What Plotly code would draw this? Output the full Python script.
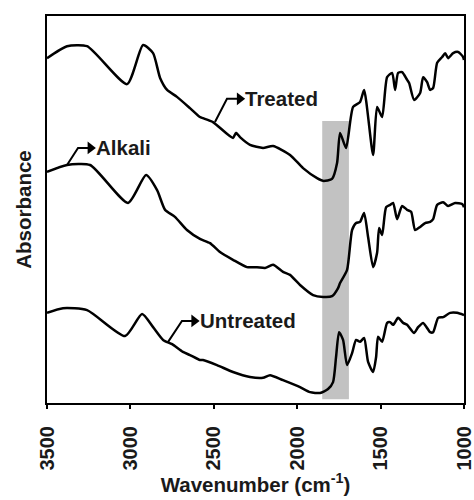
import plotly.graph_objects as go

# FTIR spectra (wavenumber in cm^-1, absorbance in arbitrary offset units)
treated_wn = [3500, 3380, 3260, 3020, 2924, 2864, 2822, 2780, 2721, 2643, 2583, 2565, 2505,
              2385, 2367, 2343, 2283, 2205, 2145, 2043, 1965, 1881, 1845, 1791, 1761, 1743,
              1707, 1665, 1623, 1599, 1545, 1521, 1491, 1461, 1431, 1413, 1395, 1371, 1341,
              1329, 1299, 1263, 1245, 1221, 1203, 1185, 1161, 1131, 1113, 1095, 1065, 1035,
              1005, 1000]
treated_abs = [89.1, 92.2, 92.2, 82.4, 92.5, 90.4, 84.0, 80.9, 79.1, 76.2, 73.9, 73.6, 72.6,
               68.5, 69.8, 68.7, 66.7, 65.9, 66.4, 64.1, 60.7, 58.1, 57.4, 57.9, 62.0, 69.8,
               65.9, 76.5, 77.8, 80.9, 64.1, 76.5, 73.9, 84.2, 85.3, 80.9, 85.3, 85.5, 83.5,
               82.7, 78.3, 80.1, 84.2, 82.9, 80.9, 81.4, 87.9, 89.4, 90.4, 89.1, 90.4, 90.7,
               89.4, 88.6]

alkali_wn = [3500, 3380, 3242, 3014, 2906, 2840, 2792, 2733, 2661, 2583, 2523, 2463, 2385,
             2301, 2241, 2193, 2145, 2085, 2043, 1983, 1905, 1845, 1791, 1755, 1743, 1701,
             1671, 1647, 1623, 1599, 1575, 1545, 1521, 1509, 1491, 1467, 1443, 1425, 1401,
             1371, 1341, 1317, 1293, 1263, 1233, 1203, 1185, 1161, 1125, 1095, 1053, 1011,
             1000]
alkali_abs = [59.7, 61.5, 61.5, 51.7, 58.9, 55.0, 49.9, 48.1, 44.7, 42.4, 41.3, 39.0, 37.0,
              35.1, 35.1, 34.9, 35.7, 33.9, 33.1, 30.5, 27.9, 27.4, 27.6, 29.7, 31.0, 34.4,
              44.7, 46.5, 46.8, 49.1, 42.9, 35.1, 38.8, 45.2, 43.4, 50.6, 51.2, 51.7, 47.5,
              50.9, 49.9, 49.4, 44.7, 45.5, 46.5, 46.8, 47.5, 51.2, 51.9, 50.9, 51.7, 51.4,
              50.6]

untreated_wn = [3500, 3404, 3260, 3032, 2930, 2864, 2804, 2750, 2685, 2643, 2583, 2565, 2481,
                2385, 2283, 2205, 2163, 2085, 1983, 1923, 1863, 1815, 1785, 1767, 1749, 1725,
                1701, 1671, 1647, 1623, 1599, 1575, 1545, 1527, 1515, 1491, 1461, 1443, 1425,
                1395, 1365, 1341, 1299, 1275, 1245, 1203, 1185, 1155, 1125, 1083, 1041, 1000]
untreated_abs = [23.3, 24.5, 24.0, 17.3, 23.0, 19.6, 16.3, 15.2, 13.2, 12.4, 11.1, 11.1, 9.8,
                 8.0, 6.7, 6.5, 7.2, 5.9, 4.1, 2.8, 2.6, 3.6, 5.4, 11.9, 18.3, 16.3,
                 9.8, 12.9, 16.3, 15.8, 16.8, 10.6, 8.0, 11.9, 17.1, 15.8, 20.7, 20.9, 20.2,
                 22.0, 20.7, 20.2, 18.1, 19.6, 20.7, 18.3, 18.3, 22.0, 22.2, 23.3, 23.3, 22.7]

x_ticks = [3500, 3000, 2500, 2000, 1500, 1000]
x_tick_labels = ["3500", "3000", "2500", "2000", "1500", "1000"]

# carbonyl band highlight
band_lo, band_hi = 1690, 1850
band_top = 72.9

FONT = "Liberation Sans, Arial, sans-serif"
INK = "#1a1a1a"

fig = go.Figure()
fig.add_shape(type="rect", xref="x", yref="y", x0=band_hi, x1=band_lo, y0=1.0, y1=band_top,
              fillcolor="#c2c2c2", line=dict(width=0), layer="below")

for wn, ab in [(treated_wn, treated_abs), (alkali_wn, alkali_abs), (untreated_wn, untreated_abs)]:
    fig.add_trace(go.Scatter(
        x=wn, y=ab, mode="lines",
        line=dict(color="black", width=2.5, shape="spline", smoothing=0.6),
        showlegend=False, hoverinfo="skip"))

# curve labels with bent arrows: (foot on curve, elbow, arrow tip, text)
labels = [
    ((2493, 72.6), (2421, 78.6), (2345, 78.6), "Treated"),
    ((3380, 61.5), (3314, 65.9), (3240, 65.9), "Alkali"),
    ((2774, 15.8), (2691, 21.2), (2618, 21.2), "Untreated"),
]
for foot, elbow, tip, text in labels:
    fig.add_trace(go.Scatter(
        x=[foot[0], elbow[0], tip[0]], y=[foot[1], elbow[1], tip[1]],
        mode="lines", line=dict(color="black", width=2),
        showlegend=False, hoverinfo="skip"))
    fig.add_trace(go.Scatter(
        x=[tip[0]], y=[tip[1]], mode="markers",
        marker=dict(symbol="triangle-right", size=11, color="black"),
        showlegend=False, hoverinfo="skip"))
    fig.add_annotation(x=tip[0] - 22, y=tip[1], xref="x", yref="y", text=f"<b>{text}</b>",
                       showarrow=False, xanchor="left", yanchor="middle",
                       font=dict(family=FONT, size=20.5, color=INK))

axis_common = dict(showline=True, linecolor="black", linewidth=2, mirror=True,
                   showgrid=False, zeroline=False, automargin=False)

fig.update_layout(
    width=474, height=500,
    margin=dict(l=47, r=10, t=16, b=97),
    paper_bgcolor="white", plot_bgcolor="white",
    xaxis=dict(range=[3500, 1000], tickvals=x_ticks, ticktext=x_tick_labels,
               ticks="outside", ticklen=4, tickwidth=2, tickcolor="black",
               tickangle=-90, ticklabelstandoff=9, ticklabeloverflow="allow",
               tickfont=dict(family=FONT, size=20, color=INK, weight="bold"),
               title=dict(text="<b>Wavenumber (cm<sup>-1</sup>)</b>", standoff=4,
                          font=dict(family=FONT, size=20.5, color=INK)),
               **axis_common),
    yaxis=dict(range=[0, 100], showticklabels=False, ticks="",
               title=dict(text="<b>Absorbance</b>", standoff=8,
                          font=dict(family=FONT, size=20.5, color=INK)),
               **axis_common),
)

fig.write_html("out.html")
